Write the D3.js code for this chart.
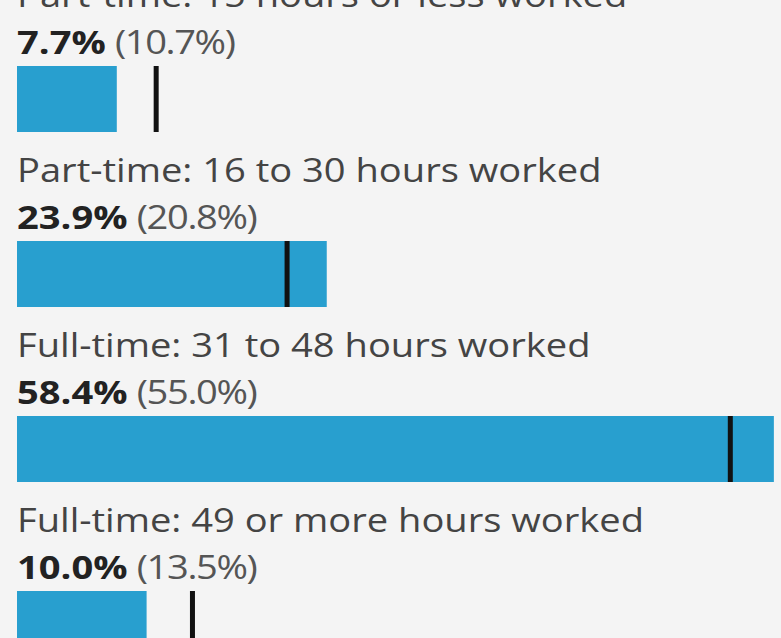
<!DOCTYPE html>
<html>
<head>
<meta charset="utf-8">
<script src="https://cdn.jsdelivr.net/npm/d3@7"></script>
<style>
  html, body { margin: 0; padding: 0; background: #f4f4f4; }
  svg { display: block; font-family: "Open Sans", sans-serif; }
</style>
</head>
<body>
<svg width="781" height="638"></svg>
<script>
// hours worked categories, share (%) and comparison share (%) shown by marker
const categories = [
  'Part-time: 15 hours or less worked',
  'Part-time: 16 to 30 hours worked',
  'Full-time: 31 to 48 hours worked',
  'Full-time: 49 or more hours worked'
];
const shares = [7.7, 23.9, 58.4, 10.0];
const compare = [10.7, 20.8, 55.0, 13.5];

const svg = d3.select('svg');

var x = d3.scaleLinear().domain([0, 60]).range([17, 794.6]);
var y = d3.scaleBand().domain(categories).range([-17, 683]);

const stretch = 1.155; // text in the original is drawn a bit wide

const rows = categories.map((c, i) => ({ cat: c, v: shares[i], c: compare[i] }));

const g = svg
  .selectAll('g.row')
  .data(rows)
  .enter()
  .append('g')
  .attr('class', 'row')
  .attr('transform', (d) => 'translate(0,' + y(d.cat) + ')');

// category label
g.append('text')
  .attr('transform', 'translate(17,24) scale(' + stretch + ',1)')
  .attr('font-size', '33px')
  .attr('fill', '#444')
  .text((d) => d.cat);

// value line: bold share, then comparison in brackets
const val = g.append('text')
  .attr('transform', 'translate(17,71) scale(' + stretch + ',1)')
  .attr('font-size', '33px');
val.append('tspan')
  .attr('font-weight', 'bold')
  .attr('fill', '#222')
  .text((d) => d.v.toFixed(1) + '%');
val.append('tspan')
  .attr('fill', '#555')
  .attr('dx', 8)
  .attr('letter-spacing', '-1.2px')
  .text((d) => '(' + d.c.toFixed(1) + '%)');

// bars
g.append('rect')
  .attr('x', x(0))
  .attr('y', 83)
  .attr('width', (d) => x(d.v) - x(0))
  .attr('height', 66)
  .attr('fill', '#289fcf');

// comparison markers
g.append('rect')
  .attr('x', (d) => x(d.c) - 2)
  .attr('y', 83)
  .attr('width', 5)
  .attr('height', 66)
  .attr('fill', '#111');
</script>
</body>
</html>
